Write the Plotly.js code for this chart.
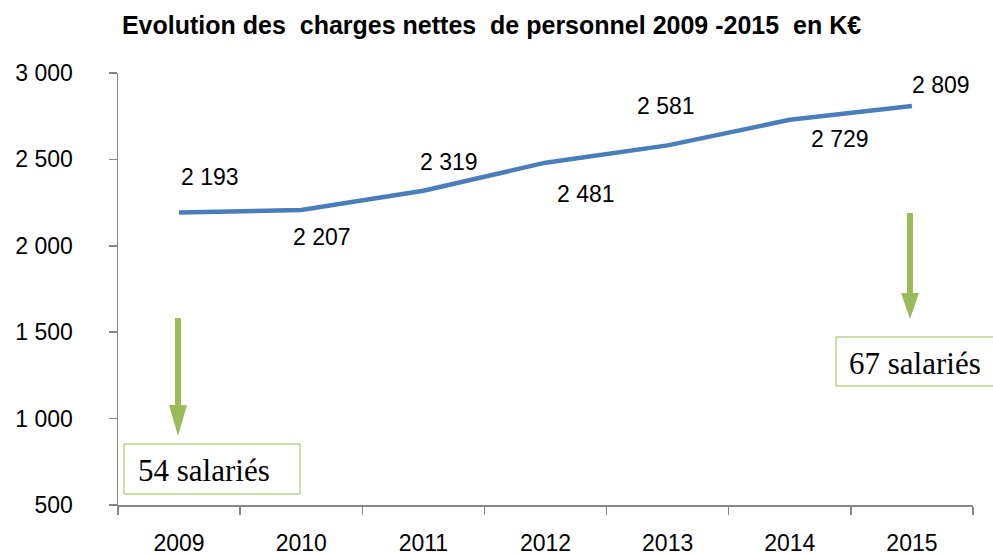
<!DOCTYPE html>
<html>
<head>
<meta charset="utf-8">
<script src="https://cdn.plot.ly/plotly-3.0.1.min.js"></script>
<style>html,body{margin:0;padding:0;background:#fff;}#chart{width:993px;height:556px;}</style>
</head>
<body>
<div id="chart"></div>
<script>
// Data
const years = ["2009", "2010", "2011", "2012", "2013", "2014", "2015"];
const charges = [2193, 2207, 2319, 2481, 2581, 2729, 2809];
const yTicks = [500, 1000, 1500, 2000, 2500, 3000];
const staffNotes = ["54 salariés", "67 salariés"];

// label placement offsets (pixels) for each data label
const labelShift = [[31, 35], [21, -27], [26, 29], [40, -31], [-2, 39], [50, -19], [29, 21]];

function fmt(v) { return String(v).replace(/\B(?=(\d{3})+(?!\d))/g, " "); }

const L = 118, R = 973, T = 73, B = 505;
const px = x => (x - L) / (R - L);
const py = y => (B - y) / (B - T);

const labelFont = {family: "Liberation Sans, Arial, sans-serif", size: 23, color: "#000"};
const annotations = charges.map((v, i) => ({
  x: i, y: v, xref: "x", yref: "y", text: fmt(v), showarrow: false,
  xshift: labelShift[i][0], yshift: labelShift[i][1], font: labelFont
}));

const green = "#9BBB59";
const serif = {family: "Liberation Serif, Times New Roman, serif", size: 31, color: "#000"};
annotations.push({xref: "paper", yref: "paper", x: px(136), y: py(470), xanchor: "left", yanchor: "middle",
  text: staffNotes[0], showarrow: false, font: serif});
annotations.push({xref: "paper", yref: "paper", x: px(847), y: py(363), xanchor: "left", yanchor: "middle",
  text: staffNotes[1], showarrow: false, font: serif});

function arrow(x, y0, y1, yh) {
  return [
    {type: "rect", xref: "paper", yref: "paper", x0: px(x - 3), x1: px(x + 3), y0: py(y0), y1: py(y1 + 1), fillcolor: green, line: {width: 0}},
    {type: "path", xref: "paper", yref: "paper",
     path: `M ${px(x - 9)} ${py(y1)} L ${px(x + 9)} ${py(y1)} L ${px(x)} ${py(yh)} Z`,
     fillcolor: green, line: {width: 0}}
  ];
}

const shapes = [
  ...arrow(178, 318, 405, 436),
  ...arrow(910, 213, 293, 319),
  {type: "rect", xref: "paper", yref: "paper", x0: px(124), x1: px(300), y0: py(494), y1: py(444), line: {color: green, width: 1}, fillcolor: "rgba(0,0,0,0)"},
  {type: "rect", xref: "paper", yref: "paper", x0: px(836), x1: px(1000), y0: py(386), y1: py(337), line: {color: green, width: 1}, fillcolor: "rgba(0,0,0,0)"}
];

const trace = {
  x: years, y: charges, type: "scatter", mode: "lines",
  line: {color: "#4A7EBB", width: 4.5}, hoverinfo: "skip", cliponaxis: false
};

const axisFont = {family: "Liberation Sans, Arial, sans-serif", size: 23, color: "#000"};

const layout = {
  width: 993, height: 556,
  margin: {l: L, r: 993 - R, t: T, b: 556 - B, pad: 0},
  paper_bgcolor: "#fff", plot_bgcolor: "#fff",
  separators: ", ",
  showlegend: false,
  title: {text: "<b>Evolution des  charges nettes  de personnel 2009 -2015  en K€</b>",
    font: {family: "Liberation Sans, Arial, sans-serif", size: 25, color: "#000"},
    x: 0.495, xanchor: "center", y: 0.955, yanchor: "middle"},
  xaxis: {
    type: "category", range: [-0.5, 6.5], showgrid: false, zeroline: false,
    showline: true, linecolor: "#868686", linewidth: 1.5,
    ticks: "outside", ticklen: 8, tickcolor: "#868686", tickwidth: 1.5,
    tickson: "boundaries", tickfont: axisFont, ticklabelstandoff: 17
  },
  yaxis: {
    range: [500, 3000], tickvals: yTicks, ticktext: yTicks.map(fmt),
    showgrid: false, zeroline: false, showline: true, linecolor: "#868686", linewidth: 1.5,
    ticks: "outside", ticklen: 8, tickcolor: "#868686", tickwidth: 1.5,
    tickfont: axisFont, ticklabelstandoff: 31
  },
  annotations: annotations,
  shapes: shapes
};

Plotly.newPlot("chart", [trace], layout, {displayModeBar: false, staticPlot: true});
</script>
</body>
</html>
